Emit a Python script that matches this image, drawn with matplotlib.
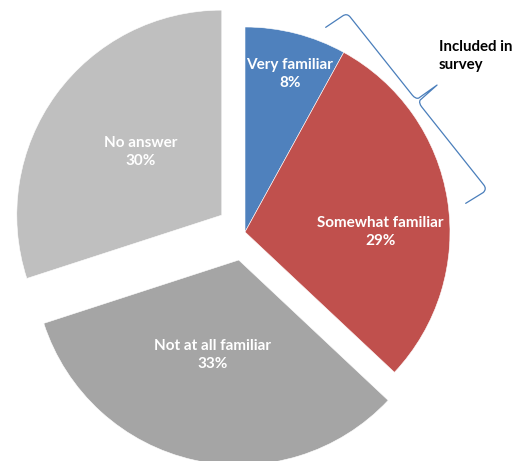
import numpy as np
import matplotlib
matplotlib.use("Agg")
from matplotlib import pyplot as plt
from matplotlib.path import Path
from matplotlib.patches import PathPatch

# Survey answers
categories = ["Very familiar", "Somewhat familiar", "Not at all familiar", "No answer"]
shares = [8, 29, 33, 30]
colors = ["#4F81BD", "#C0504D", "#A5A5A5", "#BFBFBF"]
explode = [0, 0, 0.14, 0.14]
label_dist = [0.80, 0.66, 0.48, 0.50]
label_turn = [-1.5, -9, -3, -2]  # degrees, nudges labels off the mid-angle

W, H = 515, 461
CX, CY, R = 245, 232, 205  # pie centre and radius, in pixels


def px(x, y):
    # pixel position -> data units (pie radius = 1)
    return (x - CX) / R, (CY - y) / R


def draw_brace(ax, c1, c2, depth, hook, color):
    # curly brace between two corner points, tip pointing outwards
    c1 = np.array(px(*c1))
    c2 = np.array(px(*c2))
    d = c2 - c1
    L = np.hypot(*d)
    u = d / L
    n = np.array([u[1], -u[0]])
    if n[0] < 0:
        n = -n
    m = L / 2
    r = 0.025
    g = 0.012
    segs = [
        (Path.MOVETO, (-0.01, -hook)), (Path.LINETO, (-0.002, -r)),
        (Path.CURVE3, (0.0, 0.0)), (Path.CURVE3, (r, 0.0)),
        (Path.LINETO, (m - g - r, 0.0)),
        (Path.CURVE3, (m - g, 0.0)), (Path.CURVE3, (m - g * 0.5, r * 0.6)),
        (Path.LINETO, (m, depth)),
        (Path.LINETO, (m + g * 0.5, r * 0.6)),
        (Path.CURVE3, (m + g, 0.0)), (Path.CURVE3, (m + g + r, 0.0)),
        (Path.LINETO, (L - r, 0.0)),
        (Path.CURVE3, (L, 0.0)), (Path.CURVE3, (L + 0.002, -r)),
        (Path.LINETO, (L - 0.01, -hook)),
    ]
    codes = [c for c, _ in segs]
    verts = [tuple(c1 + a * u + b * n) for _, (a, b) in segs]
    ax.add_patch(PathPatch(Path(verts, codes), fill=False, edgecolor=color,
                           lw=0.9, joinstyle="round", capstyle="round"))


fig = plt.figure(figsize=(W / 100, H / 100), dpi=100)
ax = fig.add_axes([0, 0, 1, 1])

wedges, _ = ax.pie(shares, colors=colors, explode=explode, startangle=90,
                   counterclock=False, radius=1,
                   wedgeprops=dict(edgecolor="white", linewidth=0.4))

for w, name, val, dist, turn in zip(wedges, categories, shares, label_dist, label_turn):
    mid = np.deg2rad((w.theta1 + w.theta2) / 2 + turn)
    x = w.center[0] + dist * np.cos(mid)
    y = w.center[1] + dist * np.sin(mid)
    ax.text(x, y, f"{name}\n{val}%", ha="center", va="center", color="white",
            fontsize=11, fontweight="bold", family="Lato", linespacing=1.38)

draw_brace(ax, (347, 13), (487, 189), depth=0.125, hook=0.125, color="#4A7EBB")
tx, ty = px(439, 56)
ax.text(tx, ty, "Included in\nsurvey", ha="left", va="center", color="black",
        fontsize=10.8, fontweight="bold", family="Lato", linespacing=1.35)

ax.set_xlim(-CX / R, (W - CX) / R)
ax.set_ylim(-(H - CY) / R, CY / R)
ax.set_aspect("equal")
ax.axis("off")

fig.savefig("out.png", dpi=100)
